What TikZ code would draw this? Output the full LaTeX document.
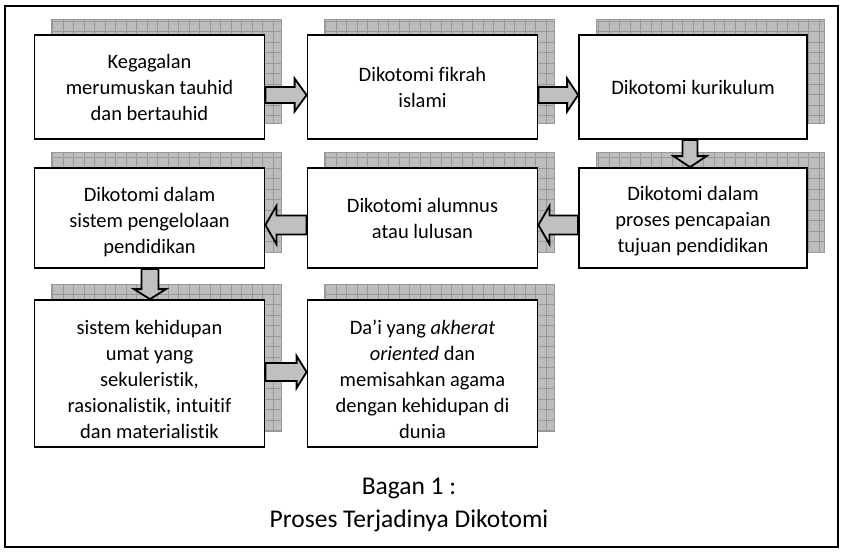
\documentclass[tikz,border=0pt]{standalone}
\usepackage{fontspec}
\setmainfont[Ligatures={NoCommon}]{Carlito}
\usetikzlibrary{calc}
\definecolor{gridgray}{HTML}{999999}
\definecolor{arrowgray}{HTML}{C0C0C0}
\definecolor{shadowgray}{HTML}{BDBDBD}
\tikzset{
 boxsty/.style={draw=black, line width=1.8pt, fill=white, minimum width=230pt, inner sep=0pt, align=center, font=\fontsize{20.5}{26}\selectfont},
 arrowsty/.style={draw=black, line width=1.8pt, fill=arrowgray, line join=miter},
 capsty/.style={font=\fontsize{25.5}{30}\selectfont, inner sep=0pt},
 gridsty/.style={draw=gridgray, line width=0.7pt},
 shadowsty/.style={draw=gridgray, line width=0.7pt, fill=shadowgray},
}
% shadow: left, top, right, bottom (pixel coords)
\newcommand\shadowrect[4]{%
   \filldraw[shadowsty] (#1,#2) rectangle (#3,#4);
   \draw[gridsty, step=10.5pt] (#1,#2) grid (#3,#4);}
\newcommand\blockarr[5]{%
  \coordinate (tmpH) at ($(#2)!#5!(#1)$);
  \draw[arrowsty] ($(#1)!#3!90:(#2)$) -- ($(tmpH)!#3!-90:(#1)$) -- ($(tmpH)!#4!-90:(#1)$) -- (#2) -- ($(tmpH)!#4!90:(#1)$) -- ($(tmpH)!#3!90:(#1)$) -- ($(#1)!#3!-90:(#2)$) -- cycle;}
\newcommand\dn[1]{\rule{0pt}{#1}}
\begin{document}
\begin{tikzpicture}[x=1pt,y=-1pt]
\useasboundingbox (0,0) rectangle (841,552);
\draw[line width=1.5pt] (5,6) rectangle (838,547);
% shadows
\shadowrect{51.5}{19}{281.5}{123}
\shadowrect{324.5}{19}{554.5}{123}
\shadowrect{596}{19}{824}{123}
\shadowrect{51.5}{152}{281.5}{252}
\shadowrect{324.5}{152}{554.5}{252}
\shadowrect{596}{152}{824}{252}
\shadowrect{51.5}{284}{281.5}{431}
\shadowrect{324.5}{284}{554.5}{431}
% boxes
\node[boxsty, minimum height=104pt] (b1) at (149.5,87) {Kegagalan\\merumuskan tauhid\\dan bertauhid};
\node[boxsty, minimum height=104pt] (b2) at (422.5,87) {Dikotomi fikrah\\islami};
\node[boxsty, minimum height=104pt, minimum width=228pt] (b3) at (693,87) {Dikotomi kurikulum};
\node[boxsty, minimum height=100pt] (b4) at (149.5,218) {\dn{22pt}Dikotomi dalam\\sistem pengelolaan\\pendidikan};
\node[boxsty, minimum height=100pt] (b5) at (422.5,218) {Dikotomi alumnus\\atau lulusan};
\node[boxsty, minimum height=100pt, minimum width=228pt] (b6) at (693,218) {\dn{21pt}Dikotomi dalam\\proses pencapaian\\tujuan pendidikan};
\node[boxsty, minimum height=147pt] (b7) at (149.5,373.5) {\dn{26pt}sistem kehidupan\\umat yang\\sekuleristik,\\rasionalistik, intuitif\\dan materialistik};
\node[boxsty, minimum height=147pt] (b8) at (422.5,373.5) {\dn{26pt}Da’i yang \textit{akherat}\\\textit{oriented} dan\\memisahkan agama\\dengan kehidupan di\\dunia};
% arrows
\coordinate (a12s) at ($(b1.east)+(0,8)$); \coordinate (a12e) at ($(b2.west)+(0,8)$);
\blockarr{a12s}{a12e}{8pt}{16.5pt}{12pt}
\coordinate (a23s) at ($(b2.east)+(0,8)$); \coordinate (a23e) at ($(b3.west)+(0,8)$);
\blockarr{a23s}{a23e}{8pt}{16.5pt}{11pt}
\coordinate (a36s) at ($(b3.south)+(-3,0)$); \coordinate (a36e) at ($(b6.north)+(-3,0)$);
\blockarr{a36s}{a36e}{7.5pt}{16.5pt}{11pt}
\coordinate (a65s) at ($(b6.west)+(0,7)$); \coordinate (a65e) at ($(b5.east)+(0,7)$);
\blockarr{a65s}{a65e}{9.5pt}{19pt}{11pt}
\coordinate (a54s) at ($(b5.west)+(0,7)$); \coordinate (a54e) at ($(b4.east)+(0,7)$);
\blockarr{a54s}{a54e}{9.5pt}{19pt}{11pt}
\coordinate (a47s) at ($(b4.south)+(0.5,0)$); \coordinate (a47e) at ($(b7.north)+(0.5,0)$);
\blockarr{a47s}{a47e}{8.5pt}{16pt}{10pt}
\coordinate (a78s) at ($(b7.east)+(0,-1.5)$); \coordinate (a78e) at ($(b8.west)+(0,-1.5)$);
\blockarr{a78s}{a78e}{9pt}{16pt}{10pt}
% caption
\node[capsty] (cap1) at (409,488) {Bagan 1 :};
\node[capsty] (cap2) at (409,521) {Proses Terjadinya Dikotomi};
\end{tikzpicture}
\end{document}
